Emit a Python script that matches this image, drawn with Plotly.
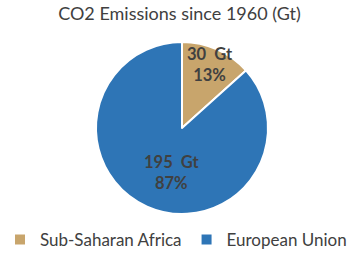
import math
import plotly.graph_objects as go

labels = ["Sub-Saharan Africa", "European Union"]
values = [30, 195]
unit = "Gt"
colors = ["#C8A56C", "#2E75B6"]

W, H = 359, 256
# pie placement (pixels) and label placement style
pie_left, pie_right = 96, 268
top_m, bot_m = 42, 42
label_r = [0.81, 0.53]
label_nudge = [0, -11]

dom_x = [pie_left / W, pie_right / W]

fig = go.Figure(go.Pie(
    labels=labels,
    values=values,
    marker=dict(colors=colors, line=dict(color="white", width=2)),
    sort=False,
    direction="clockwise",
    rotation=0,
    textinfo="none",
    hoverinfo="label+value+percent",
    domain=dict(x=dom_x, y=[0, 1]),
))

plot_h = H - top_m - bot_m
radius_px = min(pie_right - pie_left, plot_h) / 2
cx = (dom_x[0] + dom_x[1]) / 2
total = sum(values)
cum = 0
annotations = []
for v, rf, nd in zip(values, label_r, label_nudge):
    mid = (cum + v / 2) / total * 360 + nd
    cum += v
    a = math.radians(mid)
    annotations.append(dict(
        x=cx + rf * radius_px * math.sin(a) / W,
        y=0.5 + rf * radius_px * math.cos(a) / plot_h,
        xref="paper", yref="paper",
        text=f"{v}  {unit}<br>{round(v / total * 100)}%",
        showarrow=False,
        font=dict(family="Lato", size=16.5, color="#404040", weight="bold"),
        xanchor="center", yanchor="middle",
    ))

fig.update_layout(
    width=W, height=H,
    margin=dict(l=0, r=0, t=top_m, b=bot_m, autoexpand=False),
    paper_bgcolor="white",
    title=dict(text="CO2 Emissions since 1960 (Gt)", x=0.5, xanchor="center",
               y=1 - 14 / H, yanchor="middle", yref="container",
               font=dict(family="Lato", size=18, color="#404040")),
    legend=dict(orientation="h", x=0.0, xanchor="left",
                y=(bot_m - 26) / plot_h - bot_m / plot_h, yanchor="middle",
                font=dict(family="Lato", size=17, color="#404040"),
                itemwidth=30),
    showlegend=True,
    annotations=annotations,
)

fig.write_html("out.html", config={"displayModeBar": False},
               post_script="document.body.style.margin='0';")
